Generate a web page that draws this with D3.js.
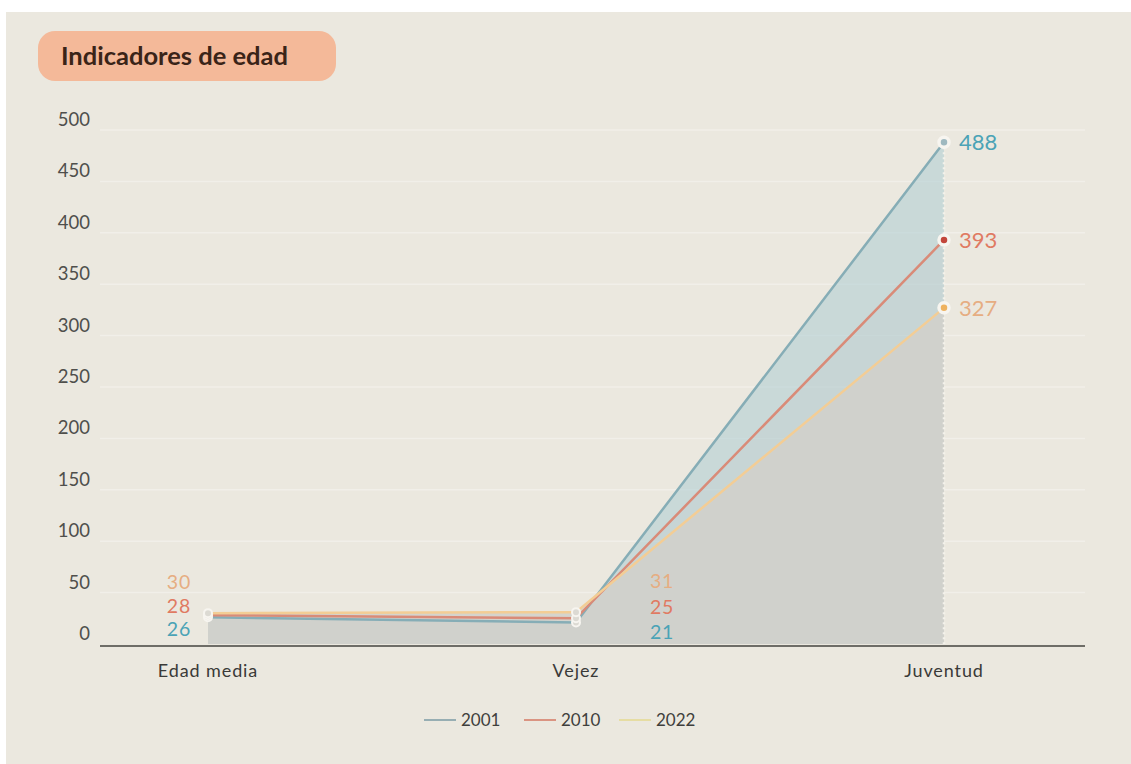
<!DOCTYPE html>
<html><head><meta charset="utf-8">
<script src="https://cdn.jsdelivr.net/npm/d3@7"></script>
<style>
html,body{margin:0;padding:0;background:#ffffff;}
svg{display:block;font-family:Lato,"Open Sans",sans-serif;}
</style></head>
<body><svg id="chart" width="1131" height="764"></svg>
<script>
const categories = ["Edad media", "Vejez", "Juventud"];
const seriesNames = ["2001", "2010", "2022"];
const values2001 = [26, 21, 488];
const values2010 = [28, 25, 393];
const values2022 = [30, 31, 327];
const yTicks = [0, 50, 100, 150, 200, 250, 300, 350, 400, 450, 500];
const title = "Indicadores de edad";

const lineColors = {"2001": "#86adb6", "2010": "#d98b78", "2022": "#f3cd95"};
const legendColors = {"2001": "#8ea8ae", "2010": "#d98b78", "2022": "#e6dc9c"};
const labelColors = {"2001": "#4aa3b6", "2010": "#e07a62", "2022": "#e6ad82"};
const dotColors = {"2001": "#9fb9c0", "2010": "#c2463b", "2022": "#eeb25f"};
const areaColors = {"2001": "#b3ced3", "2010": "#c5cccc", "2022": "#d1d0ca"};
const areaOpac = {"2001": 0.6, "2010": 0.25, "2022": 0.85};

const series = [
  {name: "2001", values: values2001},
  {name: "2010", values: values2010},
  {name: "2022", values: values2022}
];

const svg = d3.select("#chart");
svg.append("rect").attr("x", 6).attr("y", 12).attr("width", 1125).attr("height", 752).attr("fill", "#ebe8df");

// title pill
svg.append("rect").attr("x", 38).attr("y", 31).attr("width", 298).attr("height", 50).attr("rx", 17)
  .attr("fill", "#f4b999");
svg.append("text").attr("x", 61).attr("y", 65).attr("font-size", 25.5).attr("font-weight", 700)
  .attr("fill", "#3a2418").text(title);

const x = d3.scalePoint().domain(categories).range([208, 944]);
const y = d3.scaleLinear().domain([0, 500]).range([644, 130]);

// gridlines
svg.append("g").selectAll("line").data(yTicks.filter(d => d > 0)).join("line")
  .attr("x1", 100).attr("x2", 1085).attr("y1", d => y(d)).attr("y2", d => y(d))
  .attr("stroke", "#ffffff").attr("stroke-opacity", 0.32).attr("stroke-width", 1.5);

// y tick labels
svg.append("g").selectAll("text").data(yTicks).join("text")
  .attr("x", 90).attr("y", d => y(d) - 4).attr("text-anchor", "end")
  .attr("font-size", 18.5).attr("fill", "#4f4f4c").text(d => d);

// areas
const area = d3.area().x((d, i) => x(categories[i])).y0(y(0)).y1(d => y(d));
svg.append("g").selectAll("path").data(series).join("path")
  .attr("d", s => area(s.values))
  .attr("fill", s => areaColors[s.name]).attr("fill-opacity", s => areaOpac[s.name]);

// dotted vertical at last category
const maxLast = d3.max(series, s => s.values[2]);
svg.append("line").attr("x1", x(categories[2])).attr("x2", x(categories[2]))
  .attr("y1", y(maxLast)).attr("y2", y(0))
  .attr("stroke", "#f3f1ea").attr("stroke-width", 2.5).attr("stroke-dasharray", "2,3");

// lines
const line = d3.line().x((d, i) => x(categories[i])).y(d => y(d));
svg.append("g").selectAll("path").data(series).join("path")
  .attr("d", s => line(s.values)).attr("fill", "none")
  .attr("stroke", s => lineColors[s.name]).attr("stroke-width", 2.5);

// axis baseline
svg.append("line").attr("x1", 100).attr("x2", 1085).attr("y1", y(0) + 2).attr("y2", y(0) + 2)
  .attr("stroke", "#6e6d67").attr("stroke-width", 2);

// category labels
svg.append("g").selectAll("text").data(categories).join("text")
  .attr("x", d => x(d)).attr("y", 677).attr("text-anchor", "middle")
  .attr("font-size", 18).attr("letter-spacing", 0.9).attr("fill", "#3a3a38").text(d => d);

// dots
series.forEach(s => {
  s.values.forEach((v, i) => {
    const last = i === 2;
    svg.append("circle").attr("cx", x(categories[i])).attr("cy", y(v))
      .attr("r", last ? 5 : 4)
      .attr("fill", last ? dotColors[s.name] : "#dcdad3")
      .attr("stroke", "#f7f5f0").attr("stroke-width", last ? 3.5 : 2);
  });
});

// value labels
const stackOrder = ["2022", "2010", "2001"];
series.forEach(s => {
  const rank = stackOrder.indexOf(s.name);
  svg.append("text").attr("x", x(categories[0]) - 17).attr("y", y(0) - 55 + rank * 23.5)
    .attr("text-anchor", "end").attr("font-size", 19.5).attr("letter-spacing", 0.8)
    .attr("fill", labelColors[s.name]).text(s.values[0]);
  svg.append("text").attr("x", x(categories[1]) + 74).attr("y", y(0) - 56 + rank * 25.5)
    .attr("text-anchor", "start").attr("font-size", 19.5).attr("letter-spacing", 0.8)
    .attr("fill", labelColors[s.name]).text(s.values[1]);
  svg.append("text").attr("x", x(categories[2]) + 15).attr("y", y(s.values[2]) + 8)
    .attr("text-anchor", "start").attr("font-size", 22).attr("fill", labelColors[s.name])
    .text(s.values[2]);
});

// legend
const legendX = [424, 524, 619];
const lg = svg.append("g");
seriesNames.forEach((n, i) => {
  lg.append("line").attr("x1", legendX[i]).attr("x2", legendX[i] + 32).attr("y1", 720).attr("y2", 720)
    .attr("stroke", legendColors[n]).attr("stroke-width", 1.8);
  lg.append("text").attr("x", legendX[i] + 37).attr("y", 726).attr("font-size", 17)
    .attr("fill", "#3f3f3c").text(n);
});
</script></body></html>
